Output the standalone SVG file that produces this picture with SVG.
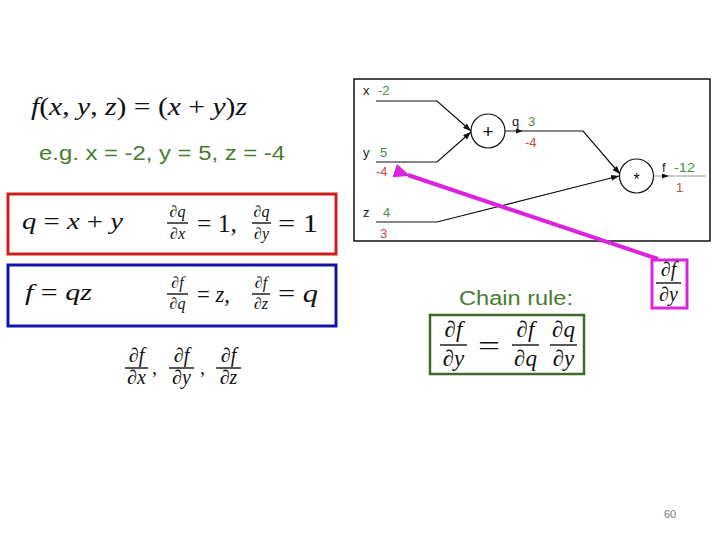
<svg xmlns="http://www.w3.org/2000/svg" width="720" height="540" viewBox="0 0 720 540">
<style>
.m{font-family:"Liberation Serif","DejaVu Serif",serif;font-style:italic;fill:#111}
.u{font-style:normal}
.s{font-family:"Liberation Sans",Arial,sans-serif}
.lbl{font-family:"Liberation Sans",Arial,sans-serif;font-size:13px;fill:#222}
.gv{fill:#4f8a45}
.rv{fill:#c44a44}
.green{fill:#4a7a2e}
.bar{stroke:#111;stroke-width:1.4}
.edge{fill:none;stroke:#111;stroke-width:1.2}
.node{fill:#fff;stroke:#111;stroke-width:1.2}
</style>
<defs>
<marker id="ah" markerUnits="userSpaceOnUse" markerWidth="8" markerHeight="6" refX="8" refY="3" orient="auto"><path d="M0,0 L8,3 L0,6 z" fill="#111"/></marker>
<marker id="mag" markerUnits="userSpaceOnUse" markerWidth="16" markerHeight="14" refX="2" refY="7" orient="auto"><path d="M16,0 L0,7 L16,14 z" fill="#dd22dd"/></marker>
</defs>
<rect width="720" height="540" fill="#fff"/>

<g id="formula">
<text class="m" x="31" y="115" font-size="25" textLength="216" lengthAdjust="spacingAndGlyphs">f<tspan class="u">(</tspan>x<tspan class="u">, </tspan>y<tspan class="u">, </tspan>z<tspan class="u">) = (</tspan>x<tspan class="u"> + </tspan>y<tspan class="u">)</tspan>z</text>
</g>
<g id="example">
<text class="s green" x="39" y="160" font-size="20" textLength="246" lengthAdjust="spacingAndGlyphs">e.g. x = -2, y = 5, z = -4</text>
</g>

<g id="addbox">
<rect x="8" y="194" width="328" height="60" fill="none" stroke="#d01e1e" stroke-width="3"/>
<text class="m" x="22" y="229" font-size="23" textLength="101" lengthAdjust="spacingAndGlyphs">q<tspan class="u"> = </tspan>x<tspan class="u"> + </tspan>y</text>
<text class="m" x="177.5" y="217" font-size="16" text-anchor="middle">∂q</text>
<line class="bar" x1="167" y1="223" x2="188" y2="223"/>
<text class="m" x="177.5" y="239" font-size="16" text-anchor="middle">∂x</text>
<text class="m u" x="197" y="232" font-size="25" textLength="40" lengthAdjust="spacingAndGlyphs">= 1,</text>
<text class="m" x="261.5" y="217" font-size="16" text-anchor="middle">∂q</text>
<line class="bar" x1="252" y1="223" x2="271" y2="223"/>
<text class="m" x="261.5" y="239" font-size="16" text-anchor="middle">∂y</text>
<text class="m u" x="278" y="232" font-size="25" textLength="40" lengthAdjust="spacingAndGlyphs">= 1</text>
</g>

<g id="mulbox">
<rect x="8" y="265" width="328" height="61" fill="none" stroke="#1414aa" stroke-width="3"/>
<text class="m" x="25" y="300" font-size="23" textLength="67" lengthAdjust="spacingAndGlyphs">f<tspan class="u"> = </tspan>qz</text>
<text class="m" x="177.5" y="288" font-size="16" text-anchor="middle">∂f</text>
<line class="bar" x1="167" y1="294" x2="188" y2="294"/>
<text class="m" x="177.5" y="309" font-size="16" text-anchor="middle">∂q</text>
<text class="m" x="197" y="302" font-size="23" textLength="33" lengthAdjust="spacingAndGlyphs"><tspan class="u">= </tspan>z<tspan class="u">,</tspan></text>
<text class="m" x="261" y="288" font-size="16" text-anchor="middle">∂f</text>
<line class="bar" x1="252" y1="294" x2="270" y2="294"/>
<text class="m" x="261" y="309" font-size="16" text-anchor="middle">∂z</text>
<text class="m" x="278" y="302" font-size="25" textLength="40" lengthAdjust="spacingAndGlyphs"><tspan class="u">= </tspan>q</text>
</g>

<g id="grads">
<text class="m" x="136.5" y="362" font-size="20" text-anchor="middle">∂f</text>
<line class="bar" x1="125" y1="368" x2="148" y2="368"/>
<text class="m" x="136.5" y="384" font-size="20" text-anchor="middle">∂x</text>
<text class="m u" x="152" y="374" font-size="20">,</text>
<text class="m" x="181.5" y="362" font-size="20" text-anchor="middle">∂f</text>
<line class="bar" x1="169" y1="368" x2="194" y2="368"/>
<text class="m" x="181.5" y="384" font-size="20" text-anchor="middle">∂y</text>
<text class="m u" x="200" y="374" font-size="20">,</text>
<text class="m" x="228.5" y="362" font-size="20" text-anchor="middle">∂f</text>
<line class="bar" x1="216" y1="368" x2="241" y2="368"/>
<text class="m" x="228.5" y="384" font-size="20" text-anchor="middle">∂z</text>
</g>

<g id="graph">
<rect x="354" y="79" width="356" height="162" fill="none" stroke="#111" stroke-width="1.5"/>
<g id="connectors">
<path class="edge" d="M376,101 L437,101 L471,131" marker-end="url(#ah)"/>
<path class="edge" d="M376,162 L437,162 L471,132" marker-end="url(#ah)"/>
<path class="edge" d="M376,222 L437,222 L619,176" marker-end="url(#ah)"/>
<path class="edge" d="M505,131 L583,131 L620,174" marker-end="url(#ah)"/>
<path d="M516,128.5 L523,131 L516,133.5 z" fill="#111"/>
<path d="M654,176 L706,176" fill="none" stroke="#999" stroke-width="1.2"/>
<path d="M662,173.5 L669,176 L662,178.5 z" fill="#111"/>
</g>
<g id="plus">
<circle class="node" cx="488" cy="131" r="17"/>
<text class="s" x="488" y="138" font-size="19" text-anchor="middle" fill="#111">+</text>
</g>
<g id="times">
<circle class="node" cx="636.5" cy="176" r="17"/>
<text class="s" x="636.5" y="185" font-size="16" text-anchor="middle" fill="#111">*</text>
</g>
<g id="labels">
<text class="lbl" x="363" y="95">x</text>
<text class="lbl gv" x="378" y="95">-2</text>
<text class="lbl" x="363" y="157">y</text>
<text class="lbl gv" x="380" y="157">5</text>
<text class="lbl rv" x="376" y="176">-4</text>
<text class="lbl" x="363" y="217">z</text>
<text class="lbl gv" x="383" y="217">4</text>
<text class="lbl rv" x="380" y="238">3</text>
<text class="lbl" x="512" y="126">q</text>
<text class="lbl gv" x="528" y="126">3</text>
<text class="lbl rv" x="525" y="147">-4</text>
<text class="lbl" x="662" y="172">f</text>
<text class="lbl gv" x="674" y="172" textLength="21" lengthAdjust="spacingAndGlyphs">-12</text>
<text class="lbl rv" x="676" y="192">1</text>
</g>
</g>

<g id="dfdy">
<line x1="658" y1="259" x2="408" y2="175" stroke="#dd22dd" stroke-width="4" marker-end="url(#mag)"/>
<rect x="652" y="260" width="35" height="48" fill="none" stroke="#dd22dd" stroke-width="3"/>
<text class="m" x="668.5" y="276" font-size="20" text-anchor="middle">∂f</text>
<line class="bar" x1="656" y1="283" x2="681" y2="283"/>
<text class="m" x="668.5" y="301" font-size="20" text-anchor="middle">∂y</text>
</g>

<g id="chain">
<text class="s green" x="459" y="305" font-size="20" textLength="114" lengthAdjust="spacingAndGlyphs">Chain rule:</text>
<rect x="430" y="315" width="154" height="59" fill="none" stroke="#3f6a2c" stroke-width="2.5"/>
<text class="m" x="453.5" y="337" font-size="23" text-anchor="middle">∂f</text>
<line class="bar" x1="440" y1="345" x2="467" y2="345"/>
<text class="m" x="453.5" y="366" font-size="23" text-anchor="middle">∂y</text>
<text class="m u" x="478" y="355" font-size="28" textLength="22" lengthAdjust="spacingAndGlyphs">=</text>
<text class="m" x="525.5" y="337" font-size="23" text-anchor="middle">∂f</text>
<line class="bar" x1="512" y1="345" x2="539" y2="345"/>
<text class="m" x="525.5" y="366" font-size="23" text-anchor="middle">∂q</text>
<text class="m" x="563.5" y="337" font-size="23" text-anchor="middle">∂q</text>
<line class="bar" x1="550" y1="345" x2="577" y2="345"/>
<text class="m" x="563.5" y="366" font-size="23" text-anchor="middle">∂y</text>
</g>

<g id="page">
<text class="s" x="664" y="518" font-size="11" fill="#777">60</text>
</g>
</svg>
